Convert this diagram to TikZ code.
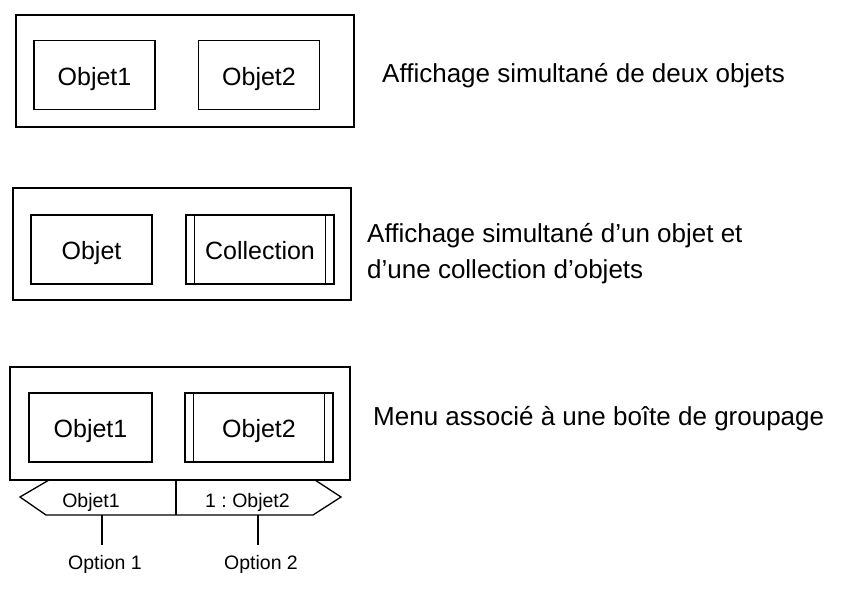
\documentclass[tikz,border=0pt]{standalone}
\usepackage{fontspec}
\setmainfont{Liberation Sans}
\frenchspacing
\tikzset{
  groupbox/.style={draw, line width=1.4pt, minimum width=338pt, minimum height=112pt, inner sep=0pt},
  objbox/.style={draw, line width=1.4pt, minimum width=121pt, minimum height=69pt, inner sep=0pt,
    font=\fontsize{25}{30}\selectfont, text height=20pt, text depth=0pt},
  collbox/.style={objbox, minimum width=148pt,
    path picture={
      \draw[line width=1.4pt] ([xshift=8.5pt]path picture bounding box.north west) -- ([xshift=8.5pt]path picture bounding box.south west);
      \draw[line width=1.4pt] ([xshift=-8.5pt]path picture bounding box.north east) -- ([xshift=-8.5pt]path picture bounding box.south east);
    }},
  caption/.style={font=\fontsize{26}{36}\selectfont, inner sep=0pt, align=left},
  menutxt/.style={font=\fontsize{19.5}{23}\selectfont, inner sep=0pt},
}
\begin{document}
\begin{tikzpicture}[x=1pt, y=-1pt]
  \useasboundingbox (0,0) rectangle (850,591);

  % deux objets
  \node[groupbox] (grp1) at (185,71) {};
  \node[objbox] (o1) at (94.5,75) {Objet1};
  \node[objbox] (o2) at (259,75) {Objet2};
  \node[caption, anchor=base west] (cap1) at (382,83) {Affichage simultané de deux objets};

  % objet et collection
  \node[groupbox] (grp2) at (182,244) {};
  \node[objbox] (obj) at (91.5,249.5) {Objet};
  \node[collbox] (coll) at (260,249.5) {Collection};
  \node[caption, anchor=west] (cap2) at (367,254) {Affichage simultané d’un objet et\\d’une collection d’objets};

  % menu
  \node[groupbox, minimum width=340pt, minimum height=113pt] (grp3) at (180,423.5) {};
  \node[objbox, minimum width=123pt] (p1) at (90.5,427.5) {Objet1};
  \node[collbox] (p2) at (259,427.5) {Objet2};
  \node[caption, anchor=base west] (cap3) at (373,425) {Menu associé à une boîte de groupage};

  \draw[line width=1.3pt, line join=miter] (49,480) -- (20,497) -- (46,515) -- (313,515) -- (341,497) -- (315,480);
  \draw[line width=1.3pt] (176,480) -- (176,515);
  \node[menutxt, anchor=base] (m1) at (91,507) {Objet1};
  \node[menutxt, anchor=base] (m2) at (247.5,507) {1 : Objet2};

  \coordinate (mb1) at (102,515);
  \coordinate (mb2) at (258,515);
  \node[menutxt, anchor=base] (opt1) at (105,569) {Option 1};
  \node[menutxt, anchor=base] (opt2) at (261,569) {Option 2};
  \draw[line width=1.3pt] (mb1) -- ([yshift=10pt]mb1 |- opt1.north);
  \draw[line width=1.3pt] (mb2) -- ([yshift=10pt]mb2 |- opt2.north);
\end{tikzpicture}
\end{document}
